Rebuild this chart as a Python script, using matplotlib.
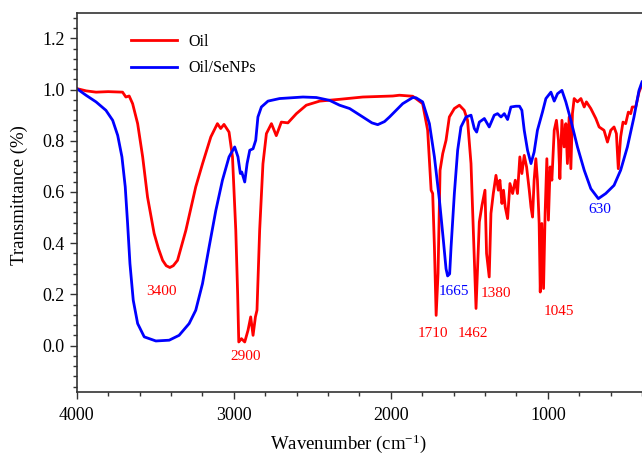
import matplotlib
matplotlib.use("Agg")
import matplotlib.pyplot as plt
from matplotlib.ticker import MultipleLocator

plt.rcParams['font.family'] = ['Liberation Serif', 'DejaVu Serif']
plt.rcParams['mathtext.fontset'] = 'custom'
plt.rcParams['mathtext.rm'] = 'Liberation Serif'
plt.rcParams['mathtext.it'] = 'Liberation Serif:italic'

# ---- data ----
oil_wn = [4000, 3940, 3877, 3800, 3708, 3687, 3666, 3644, 3612, 3580, 3549, 3507, 3480, 3453, 3430, 3407,
          3385, 3358, 3305, 3242, 3199, 3146, 3104, 3083, 3062, 3030, 3008, 2987, 2975, 2968, 2951,
          2930, 2909, 2892, 2877, 2862, 2852, 2835, 2814, 2792, 2760, 2729, 2697, 2655, 2601,
          2538, 2453, 2326, 2178, 1987, 1945, 1860, 1797, 1765, 1743, 1733, 1722, 1711, 1699,
          1686, 1669, 1648, 1627, 1595, 1563, 1532, 1511, 1489, 1474, 1457, 1444, 1436, 1419,
          1400, 1390, 1373, 1362, 1347, 1330, 1315, 1305, 1292, 1282, 1271, 1256, 1241, 1224,
          1207, 1193, 1178, 1165, 1150, 1135, 1118, 1107, 1097, 1087, 1076, 1066, 1055, 1048,
          1038, 1027, 1017, 1006, 996, 985, 974, 959, 945, 932, 923, 910, 896, 885, 875, 864,
          853, 843, 832, 811, 789, 768, 754, 726, 694, 673, 642, 620, 599, 578, 563, 551, 536,
          521, 504, 487, 472, 462, 440, 419, 400]
oil_t = [1.004, 0.995, 0.99, 0.992, 0.99, 0.971, 0.975, 0.945, 0.867, 0.737, 0.58, 0.438, 0.38, 0.333, 0.312, 0.305,
         0.312, 0.333, 0.45, 0.62, 0.71, 0.815, 0.867, 0.848, 0.864, 0.834, 0.737, 0.45, 0.2, 0.014, 0.027,
         0.014, 0.06, 0.112, 0.04, 0.112, 0.138, 0.45, 0.71, 0.828, 0.867, 0.82, 0.873, 0.87, 0.906,
         0.939, 0.955, 0.962, 0.971, 0.975, 0.978, 0.974, 0.945, 0.841, 0.607, 0.594, 0.385, 0.118, 0.281,
         0.685, 0.75, 0.802, 0.893, 0.926, 0.939, 0.919, 0.88, 0.711, 0.45, 0.145, 0.36, 0.483, 0.548,
         0.607, 0.36, 0.268, 0.516, 0.594, 0.665, 0.607, 0.646, 0.555, 0.607, 0.541, 0.496, 0.633, 0.594,
         0.646, 0.594, 0.737, 0.672, 0.743, 0.698, 0.607, 0.541, 0.502, 0.646, 0.73, 0.646, 0.477, 0.209,
         0.477, 0.223, 0.516, 0.73, 0.49, 0.698, 0.646, 0.841, 0.88, 0.802, 0.652, 0.88, 0.776, 0.867, 0.711, 0.893,
         0.691, 0.906, 0.965, 0.952, 0.965, 0.932, 0.952, 0.926, 0.887, 0.854, 0.841, 0.795, 0.841, 0.854, 0.828, 0.691, 0.815,
         0.873, 0.867, 0.912, 0.906, 0.932, 0.932, 0.99, 1.02]

senp_wn = [4000, 3941, 3877, 3814, 3771, 3739, 3712, 3691, 3676, 3661, 3640, 3612, 3570, 3496,
           3411, 3348, 3284, 3242, 3199, 3157, 3114, 3072, 3030, 2994, 2973, 2958, 2949, 2930,
           2915, 2898, 2877, 2860, 2846, 2824, 2782, 2708, 2559, 2474, 2390, 2326, 2262, 2178,
           2120, 2083, 2040, 2008, 1924, 1860, 1839, 1797, 1754, 1722, 1690, 1665, 1648, 1638,
           1625, 1616, 1595, 1574, 1553, 1521, 1489, 1468, 1453, 1436, 1404, 1373, 1341, 1320,
           1298, 1277, 1256, 1235, 1203, 1180, 1165, 1150, 1129, 1107, 1087, 1066, 1034, 1012,
           980, 959, 938, 910, 885, 853, 811, 768, 726, 678, 631, 578, 536, 493, 451, 419, 400]
senp_t = [1.004, 0.978, 0.952, 0.919, 0.88, 0.821, 0.737, 0.62, 0.477, 0.32, 0.177, 0.086, 0.034, 0.018,
          0.021, 0.04, 0.086, 0.138, 0.242, 0.385, 0.528, 0.646, 0.737, 0.776, 0.737, 0.672, 0.678, 0.639,
          0.711, 0.763, 0.769, 0.802, 0.893, 0.932, 0.955, 0.965, 0.971, 0.969, 0.958, 0.939, 0.926, 0.893,
          0.87, 0.863, 0.875, 0.893, 0.945, 0.969, 0.968, 0.952, 0.867, 0.737, 0.568, 0.411, 0.30, 0.272,
          0.28, 0.385, 0.594, 0.763, 0.854, 0.893, 0.9, 0.848, 0.834, 0.873, 0.887, 0.854, 0.9, 0.906,
          0.893, 0.906, 0.883, 0.932, 0.935, 0.935, 0.919, 0.841, 0.763, 0.711, 0.756, 0.841, 0.912, 0.965,
          0.99, 0.955, 0.984, 0.997, 0.952, 0.88, 0.776, 0.685, 0.613, 0.574, 0.594, 0.626, 0.685, 0.776, 0.893, 0.997, 1.03]

series_names = ['Oil', 'Oil/SeNPs']
series_colors = ['#ff0000', '#0000ff']

peak_labels = ['3400', '2900', '1710', '1462', '1380', '1045', '1665', '630']
peak_colors = ['#ff0000'] * 6 + ['#0000ff'] * 2
peak_pos = [(3460, 0.213), (2926, -0.042), (1729, 0.049), (1474, 0.049),
            (1330, 0.205), (932, 0.134), (1595, 0.213), (667, 0.531)]

# ---- figure ----
fig = plt.figure(figsize=(6.42, 4.57), dpi=100)
ax = fig.add_axes([0.1195, 0.143, 0.8805, 0.829])

ax.plot(oil_wn, oil_t, color=series_colors[0], lw=2.0, label=series_names[0])
ax.plot(senp_wn, senp_t, color=series_colors[1], lw=2.0, label=series_names[1])

for lab, col, (px, py) in zip(peak_labels, peak_colors, peak_pos):
    ax.text(px, py, lab, color=col, fontsize=11, ha='center', va='center')

ax.set_xlim(4000, 400)
ax.set_ylim(-0.18, 1.3)
ax.xaxis.set_major_locator(MultipleLocator(1000))
ax.xaxis.set_minor_locator(MultipleLocator(200))
ax.yaxis.set_major_locator(MultipleLocator(0.2))
ax.yaxis.set_minor_locator(MultipleLocator(0.04))
ax.set_yticks([0.0, 0.2, 0.4, 0.6, 0.8, 1.0, 1.2])
ax.yaxis.set_major_formatter(matplotlib.ticker.FormatStrFormatter('%.1f'))
ax.tick_params(which='major', direction='out', length=5, width=1, labelsize=13, colors='#333333',
               labelcolor='black')
ax.tick_params(which='minor', direction='out', length=3, width=1, colors='#333333')
ax.tick_params(axis='x', pad=6)

for s in ['left', 'top', 'bottom']:
    ax.spines[s].set_color('#333333')
    ax.spines[s].set_linewidth(1.2)
ax.spines['right'].set_visible(False)

ax.set_xlabel('Wavenumber (cm$^{\\mathrm{-1}}$)', fontsize=13.5)
ax.set_ylabel('Transmittance (%)', fontsize=13.5)
ax.xaxis.set_label_coords(0.48, -0.108)
ax.yaxis.set_label_coords(-0.087, 0.52)

leg = ax.legend(loc='upper left', bbox_to_anchor=(0.07, 0.982), frameon=False, fontsize=11.5,
                handlelength=2.9, handletextpad=0.7, labelspacing=0.65)

fig.savefig('out.png', dpi=100)
